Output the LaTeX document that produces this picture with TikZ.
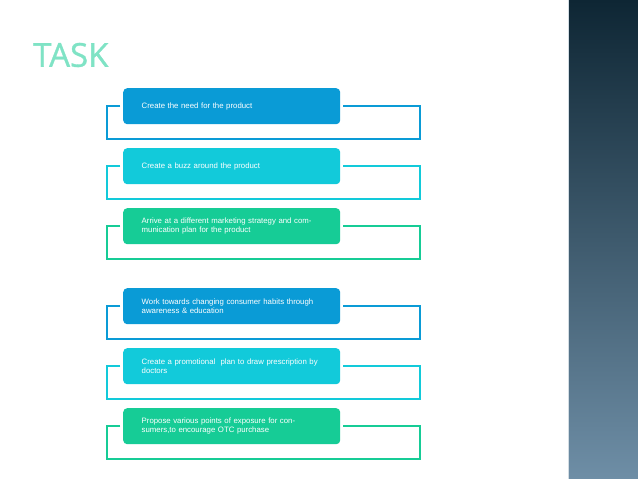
\documentclass[tikz,border=0pt]{standalone}
\usepackage{fontspec}
\setmainfont{Liberation Sans}
\newfontfamily\titlefont{Open Sans}
\begin{document}
\begin{tikzpicture}[x=1pt,y=-1pt,
  boxst/.style={rounded corners=4pt,minimum width=217pt,minimum height=36pt,text width=180pt,align=left,font=\fontsize{7.8}{9.5}\selectfont,text=white,inner xsep=7pt,inner ysep=2pt,anchor=north west},
  brk/.style={line width=2.6pt}]
\definecolor{cA}{HTML}{0A9BD6}
\definecolor{cB}{HTML}{12CADA}
\definecolor{cC}{HTML}{16CC96}
\definecolor{topS}{HTML}{0E2634}
\definecolor{botS}{HTML}{6E8EA6}
\useasboundingbox (0,0) rectangle (638,479);
\fill[white] (0,0) rectangle (638,479);
\shade[top color=topS,bottom color=botS] (568,0) rectangle (638,479);
\draw[white!70!botS,line width=1pt] (568.5,0) -- (568.5,479);
\node[font=\titlefont\fontsize{33}{33}\selectfont,text=cC!55!white,anchor=west,inner sep=0pt] (title) at (33,55) {\addfontfeature{FakeBold=1}TASK};
\foreach \i/\y/\c/\t in {1/88/cA/{Create the need for the product},
  2/148/cB/{Create a buzz around the product},
  3/208/cC/{Arrive at a different marketing strategy and communication plan for the product},
  4/288/cA/{Work towards changing consumer habits through awareness \& education},
  5/348/cB/{Create a promotional\ \ plan to draw prescription by doctors},
  6/408/cC/{Propose various points of exposure for consumers,to encourage OTC purchase}}{
  \node[boxst,fill=\c] (b\i) at (123,\y) {\t};
  \coordinate (l\i) at (107,\y+18);
  \coordinate (r\i) at (420,\y+51);
  \draw[brk,draw=\c] (120,\y+18) -- (l\i) |- (r\i) |- (343,\y+18);
}
\end{tikzpicture}
\end{document}
